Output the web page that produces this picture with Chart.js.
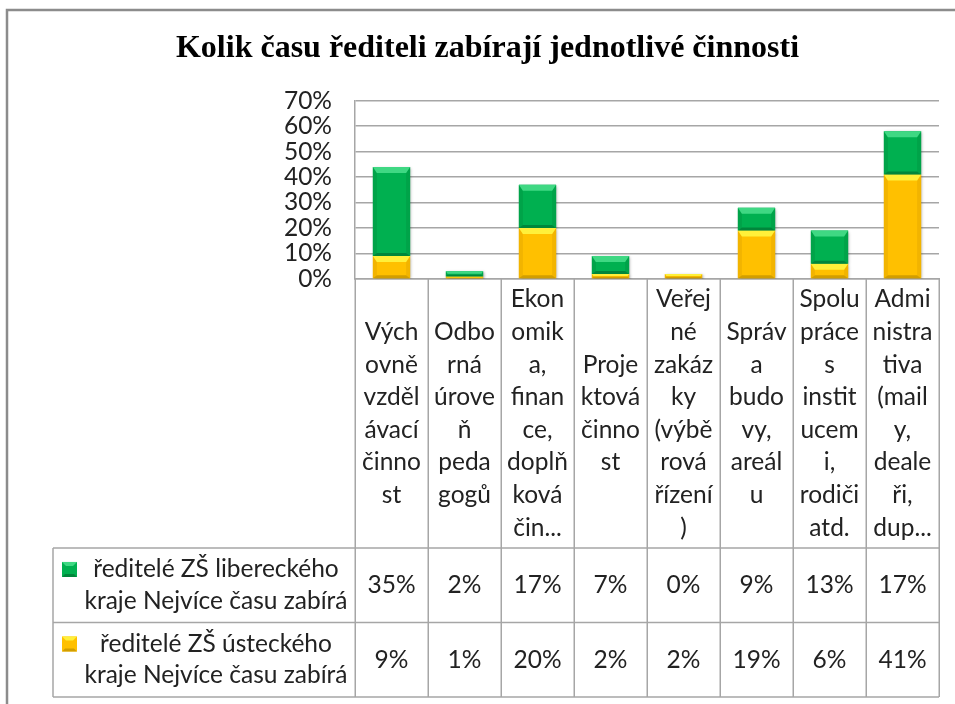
<!DOCTYPE html>
<html><head><meta charset="utf-8">
<script src="https://cdn.jsdelivr.net/npm/chart.js@4.4.1/dist/chart.umd.min.js"></script>
<style>html,body{margin:0;padding:0;background:#fff;overflow:hidden}canvas{display:block}</style>
</head><body>
<canvas id="c" width="955" height="704"></canvas>
<script>
// ---- data ----
const chartTitle = "Kolik času řediteli zabírají jednotlivé činnosti";
const categories = [
  ["Vých","ovně","vzděl","ávací","činno","st"],
  ["Odbo","rná","úrove","ň","peda","gogů"],
  ["Ekon","omik","a,","finan","ce,","doplň","ková","čin..."],
  ["Proje","ktová","činno","st"],
  ["Veřej","né","zakáz","ky","(výbě","rová","řízení",")"],
  ["Správ","a","budo","vy,","areál","u"],
  ["Spolu","práce","s","instit","ucem","i,","rodiči","atd."],
  ["Admi","nistra","tiva","(mail","y,","deale","ři,","dup..."]
];
const liberecValues = [35, 2, 17, 7, 0, 9, 13, 17];
const ustiValues    = [9, 1, 20, 2, 2, 19, 6, 41];
const liberecName = ["ředitelé ZŠ libereckého", "kraje Nejvíce času zabírá"];
const ustiName    = ["ředitelé ZŠ ústeckého", "kraje Nejvíce času zabírá"];
const yTickValues = [0, 10, 20, 30, 40, 50, 60, 70];

// ---- styles ----
const FONT = "Lato";
const FSIZE = 24.5;
const TEXT = "#222222";
const GRID = "#a6a6a6";
const GREEN = {face:"#00b050", top:"#3fd883", side:"#00a349", bottom:"#00863b"};
const GOLD  = {face:"#ffc000", top:"#fff03a", side:"#f2b400", bottom:"#d29e00"};

const frame = {
  id: "frame",
  beforeDraw(chart) {
    const ctx = chart.ctx;
    ctx.save();
    ctx.fillStyle = "#fff";
    ctx.fillRect(0, 0, chart.width, chart.height);
    ctx.strokeStyle = "#8c8c8c";
    ctx.lineWidth = 2.5;
    ctx.beginPath();
    ctx.moveTo(7, chart.height + 5);
    ctx.lineTo(7, 10);
    ctx.lineTo(chart.width + 5, 10);
    ctx.stroke();
    ctx.restore();
  }
};

const bevel = {
  id: "bevel",
  beforeDatasetsDraw(chart) {
    const ctx = chart.ctx;
    ctx.save();
    ctx.shadowColor = "rgba(0,0,0,0.35)";
    ctx.shadowBlur = 3;
    ctx.shadowOffsetX = 1;
    ctx.shadowOffsetY = 1;
  },
  afterDatasetsDraw(chart) {
    const ctx = chart.ctx;
    ctx.restore();
    ctx.save();
    chart.data.datasets.forEach((ds, di) => {
      const meta = chart.getDatasetMeta(di);
      const pal = ds.pal;
      meta.data.forEach(el => {
        const p = el.getProps(["x","y","base","width"], true);
        const l = p.x - p.width/2, r = p.x + p.width/2;
        const t = Math.min(p.y, p.base), b = Math.max(p.y, p.base);
        const h = b - t;
        if (h < 1) return;
        const s = Math.min(4, p.width/4, h/3);
        const st = Math.min(6, h/2.2);
        const sb = Math.min(3, h/3);
        const poly = (pts, col) => {
          ctx.beginPath();
          ctx.moveTo(pts[0][0], pts[0][1]);
          for (let k = 1; k < pts.length; k++) ctx.lineTo(pts[k][0], pts[k][1]);
          ctx.closePath();
          ctx.fillStyle = col;
          ctx.fill();
        };
        poly([[l,t],[l+s,t+st],[l+s,b-sb],[l,b]], pal.side);
        poly([[r,t],[r-s,t+st],[r-s,b-sb],[r,b]], pal.side);
        poly([[l,b],[l+s,b-sb],[r-s,b-sb],[r,b]], pal.bottom);
        poly([[l,t],[r,t],[r-s,t+st],[l+s,t+st]], pal.top);
      });
    });
    ctx.restore();
  }
};

const dataTable = {
  id: "dataTable",
  afterDraw(chart) {
    const ctx = chart.ctx;
    const ca = chart.chartArea;
    const xs = chart.scales.x;
    const n = categories.length;
    const colW = (ca.right - ca.left) / n;
    const headTop = ca.bottom;
    const headBottom = headTop + 269;
    const rowH = 74.5;
    const tableBottom = headBottom + 2 * rowH;
    const legendLeft = 53;
    const lineH = 32.6;
    ctx.save();
    ctx.strokeStyle = GRID;
    ctx.lineWidth = 1.5;
    ctx.beginPath();
    for (let i = 0; i <= n; i++) {
      const xx = Math.round(ca.left + i * colW) + 0.25;
      ctx.moveTo(xx, headTop);
      ctx.lineTo(xx, tableBottom);
    }
    ctx.moveTo(legendLeft, headBottom);
    ctx.lineTo(legendLeft, tableBottom);
    for (let k = 0; k <= 2; k++) {
      const yy = headBottom + k * rowH;
      ctx.moveTo(legendLeft, yy);
      ctx.lineTo(ca.right, yy);
    }
    ctx.stroke();

    ctx.fillStyle = TEXT;
    ctx.font = FSIZE + "px " + FONT;
    ctx.textAlign = "center";
    ctx.textBaseline = "middle";
    const headMid = (headTop + headBottom) / 2;
    categories.forEach((lines, i) => {
      const cx = xs.getPixelForValue(i);
      const y0 = headMid - (lines.length - 1) * lineH / 2;
      lines.forEach((ln, j) => ctx.fillText(ln, cx, y0 + j * lineH));
    });

    const rows = [
      {name: liberecName, vals: liberecValues, pal: GREEN},
      {name: ustiName, vals: ustiValues, pal: GOLD}
    ];
    rows.forEach((row, k) => {
      const mid = headBottom + k * rowH + rowH / 2;
      row.vals.forEach((v, i) => {
        ctx.fillStyle = TEXT;
        ctx.fillText(v + "%", xs.getPixelForValue(i), mid);
      });
      const l1 = mid - 15.8, l2 = mid + 15.8;
      ctx.fillText(row.name[0], 216, l1);
      ctx.fillText(row.name[1], 216, l2);
      // legend key
      const ks = 15, kx = 62, ky = l1 - 7.5;
      ctx.fillStyle = row.pal.face;
      ctx.fillRect(kx, ky, ks, ks);
      ctx.fillStyle = row.pal.top;
      ctx.beginPath();
      ctx.moveTo(kx, ky); ctx.lineTo(kx + ks, ky); ctx.lineTo(kx + ks - 4, ky + 4); ctx.lineTo(kx + 4, ky + 4);
      ctx.closePath(); ctx.fill();
      ctx.fillStyle = row.pal.bottom;
      ctx.beginPath();
      ctx.moveTo(kx, ky + ks); ctx.lineTo(kx + ks, ky + ks); ctx.lineTo(kx + ks - 3, ky + ks - 3); ctx.lineTo(kx + 3, ky + ks - 3);
      ctx.closePath(); ctx.fill();
    });
    ctx.restore();
  }
};

new Chart(document.getElementById("c"), {
  type: "bar",
  data: {
    labels: categories,
    datasets: [
      {label: ustiName.join(" "), data: ustiValues, backgroundColor: GOLD.face, pal: GOLD, borderWidth: 0},
      {label: liberecName.join(" "), data: liberecValues, backgroundColor: GREEN.face, pal: GREEN, borderWidth: 0}
    ]
  },
  options: {
    responsive: false,
    animation: false,
    devicePixelRatio: 1,
    layout: {padding: {left: 36, right: 16, top: 0, bottom: 0}},
    datasets: {bar: {categoryPercentage: 1, barPercentage: 0.51}},
    plugins: {
      legend: {display: false},
      tooltip: {enabled: false},
      title: {
        display: true,
        text: chartTitle,
        color: "#000",
        font: {family: "Liberation Serif", size: 32, weight: "bold", lineHeight: 1.2},
        padding: {top: 29.5, bottom: 32.8}
      }
    },
    scales: {
      x: {
        stacked: true,
        ticks: {display: false},
        grid: {display: false},
        border: {display: true, color: GRID, width: 1.5},
        afterFit(scale) { scale.height = 704 - 279; }
      },
      y: {
        stacked: true,
        min: 0, max: 70,
        afterBuildTicks(scale) { scale.ticks = yTickValues.map(v => ({value: v})); },
        ticks: {
          autoSkip: false,
          callback: v => v + "%",
          color: TEXT,
          font: {family: FONT, size: FSIZE},
          padding: 23
        },
        grid: {color: GRID, lineWidth: 1.5, drawTicks: false},
        border: {display: true, color: GRID, width: 1.5},
        afterFit(scale) { scale.width = 319; }
      }
    }
  },
  plugins: [frame, bevel, dataTable]
});
</script>
</body></html>
